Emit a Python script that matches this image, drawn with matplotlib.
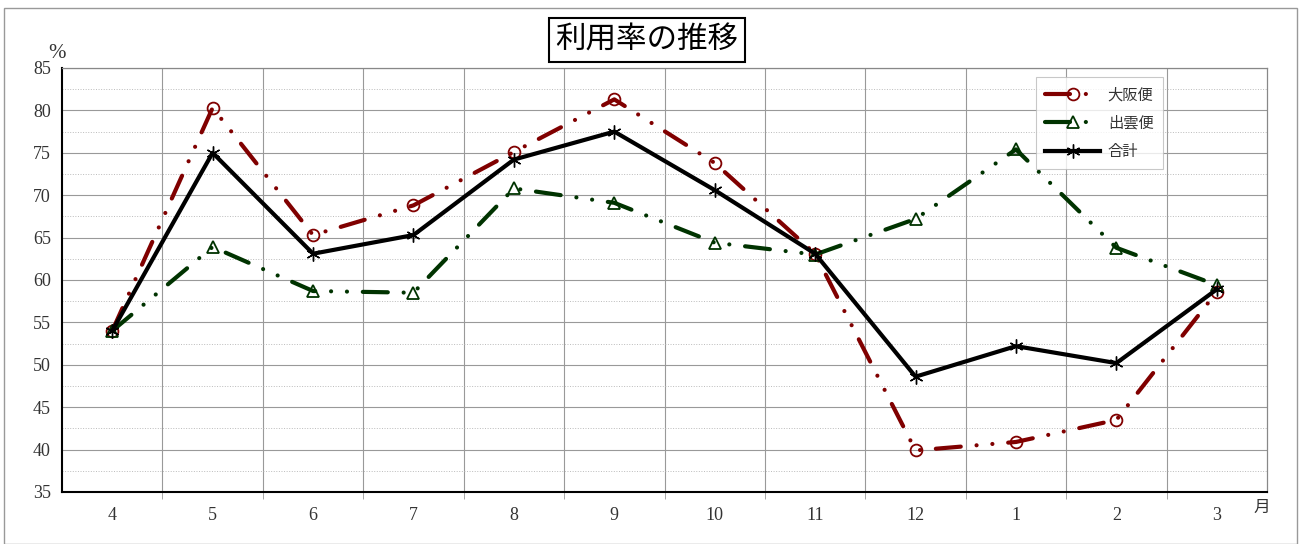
import matplotlib.pyplot as plt
import numpy as np
from matplotlib.patches import Rectangle
from matplotlib.ticker import MultipleLocator

months = ['4', '5', '6', '7', '8', '9', '10', '11', '12', '1', '2', '3']
osaka = [54.0, 80.3, 65.3, 68.8, 75.1, 81.3, 73.8, 63.1, 39.9, 40.9, 43.5, 58.6]
izumo = [54.0, 63.9, 58.7, 58.5, 70.8, 69.1, 64.4, 63.0, 67.2, 75.4, 63.8, 59.4]
total = [54.0, 75.0, 63.1, 65.3, 74.2, 77.5, 70.6, 63.1, 48.6, 52.2, 50.2, 58.9]

plt.rcParams['font.family'] = ['Noto Sans CJK JP', 'DejaVu Sans']
serif = ['Liberation Serif', 'DejaVu Serif']

fig = plt.figure(figsize=(13.01, 5.44), dpi=100)
ax = fig.add_axes([62/1301, 1 - 492/544, (1267-62)/1301, (492-68)/544])

x = np.arange(len(months))
# long dash, dot, dot (Excel style)
dashdotdot = (0, (6.0, 3.8, 0.01, 3.8, 0.01, 3.8))

ax.plot(x, osaka, color='#800000', lw=3, ls=dashdotdot, dash_capstyle='round',
        marker='o', ms=8.5, mfc='none', mec='#800000', mew=1.3, label='大阪便', zorder=3)
ax.plot(x, izumo, color='#003300', lw=3, ls=dashdotdot, dash_capstyle='round',
        marker='^', ms=9, mfc='none', mec='#003300', mew=1.3, label='出雲便', zorder=3)
ax.plot(x, total, color='black', lw=3, marker=(6, 2, 0), ms=10, mew=1.0,
        label='合計', zorder=4)

ax.set_xlim(-0.5, len(months) - 0.5)
ax.set_ylim(35, 85)
ax.yaxis.set_major_locator(MultipleLocator(5))
ax.yaxis.set_minor_locator(MultipleLocator(2.5))
ax.set_xticks(x)
ax.set_xticklabels(months, fontfamily=serif, fontsize=13, color='#333333')
ax.set_xticks(x[:-1] + 0.5, minor=True)
for lbl in ax.get_yticklabels():
    lbl.set_fontfamily(serif)
ax.tick_params(axis='y', which='both', length=0, labelsize=13, pad=8, colors='#333333')
ax.tick_params(axis='x', which='major', length=0, pad=11)
ax.tick_params(axis='x', which='minor', length=5, color='#999999', direction='out')

ax.grid(axis='y', which='major', color='#999999', lw=0.8)
ax.grid(axis='y', which='minor', color='#bbbbbb', lw=0.7, ls=':')
ax.grid(axis='x', which='minor', color='#999999', lw=0.8)
ax.set_axisbelow(True)

for side in ['top', 'right']:
    ax.spines[side].set_color('#888888')
    ax.spines[side].set_linewidth(0.9)
for side in ['left', 'bottom']:
    ax.spines[side].set_color('black')
    ax.spines[side].set_linewidth(1.5)

leg = ax.legend(loc='upper left', bbox_to_anchor=((1036-62)/1205, (492-77)/424),
                borderaxespad=0, fontsize=11, frameon=True, fancybox=False,
                edgecolor='#bbbbbb', handlelength=3.6, handletextpad=0.5,
                labelspacing=0.75, borderpad=0.6)
for t in leg.get_texts():
    t.set_color('#333333')
leg.get_frame().set_linewidth(0.8)

fig.text(647/1301, 1 - 40/544, '利用率の推移', ha='center', va='center', fontsize=22,
         bbox=dict(boxstyle='square,pad=0.2', fc='white', ec='black', lw=1.5))
fig.text(57/1301, 1 - 53/544, '%', ha='center', va='center', fontsize=15,
         fontfamily=serif, color='#333333')
fig.text(1262/1301, 1 - 507/544, '月', ha='center', va='center', fontsize=12, color='#333333')

fig.patches.append(Rectangle((4/1301, 0), 1293/1301, 1 - 8/544, transform=fig.transFigure,
                             fill=False, ec='#999999', lw=1.0))

fig.savefig('out.png', dpi=100)
